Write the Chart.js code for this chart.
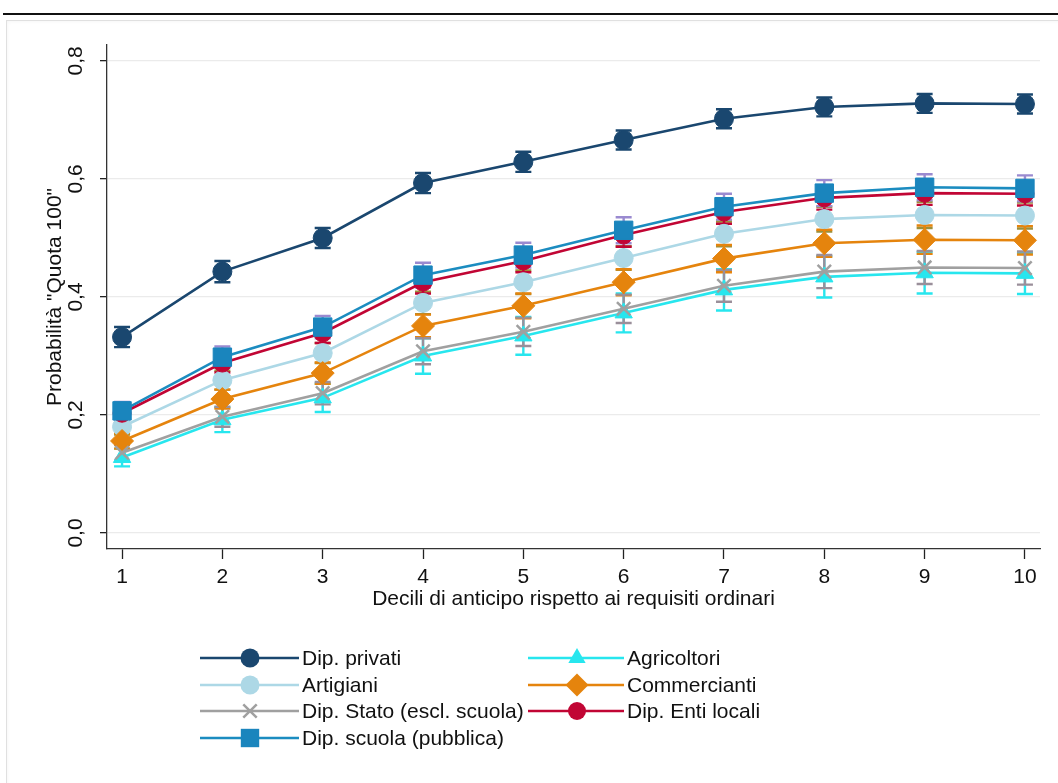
<!DOCTYPE html>
<html><head><meta charset="utf-8">
<script src="https://cdn.jsdelivr.net/npm/chart.js@4.4.1/dist/chart.umd.min.js"></script>
<style>
html,body{margin:0;padding:0;background:#fff;width:1058px;height:783px;overflow:hidden;}
#rule{position:absolute;left:3px;top:13px;width:1055px;height:2px;background:#111;}
#panel{position:absolute;left:6px;top:20px;width:1060px;height:780px;border:1px solid #e0e0e0;box-shadow:inset 0 0 4px rgba(0,0,0,0.05);}
#wrap{position:absolute;left:0;top:0;width:1058px;height:783px;}
</style></head><body>
<div id="rule"></div><div id="panel"></div>
<div id="wrap"><canvas id="c" width="1058" height="783"></canvas></div>
<script>
// ---- data ----
const deciles = [1, 2, 3, 4, 5, 6, 7, 8, 9, 10];
const yTicks = [0, 0.2, 0.4, 0.6, 0.8];
const seriesNames = ["Dip. privati", "Agricoltori", "Artigiani", "Commercianti", "Dip. Stato (escl. scuola)", "Dip. Enti locali", "Dip. scuola (pubblica)"];
const dipPrivati   = [0.332, 0.443, 0.500, 0.593, 0.629, 0.666, 0.702, 0.722, 0.728, 0.727];
const agricoltori  = [0.128, 0.192, 0.229, 0.300, 0.334, 0.373, 0.412, 0.434, 0.441, 0.440];
const artigiani    = [0.180, 0.259, 0.305, 0.390, 0.425, 0.466, 0.507, 0.532, 0.539, 0.538];
const commercianti = [0.156, 0.227, 0.271, 0.351, 0.385, 0.425, 0.465, 0.491, 0.497, 0.496];
const dipStato     = [0.136, 0.197, 0.237, 0.308, 0.341, 0.380, 0.419, 0.443, 0.450, 0.449];
const dipEnti      = [0.203, 0.288, 0.339, 0.425, 0.461, 0.505, 0.544, 0.568, 0.576, 0.575];
const dipScuola    = [0.207, 0.298, 0.349, 0.437, 0.471, 0.513, 0.553, 0.576, 0.586, 0.584];
// half-widths of the confidence intervals
const ciPrivati      = [0.017, 0.018, 0.017, 0.017, 0.017, 0.016, 0.016, 0.016, 0.016, 0.016];
const ciAgricoltori  = [0.015, 0.021, 0.024, 0.030, 0.032, 0.033, 0.035, 0.035, 0.035, 0.035];
const ciArtigiani    = [0.013, 0.016, 0.017, 0.019, 0.020, 0.020, 0.021, 0.021, 0.022, 0.022];
const ciCommercianti = [0.013, 0.016, 0.018, 0.019, 0.021, 0.022, 0.023, 0.023, 0.024, 0.024];
const ciStato        = [0.013, 0.017, 0.019, 0.022, 0.024, 0.024, 0.027, 0.028, 0.028, 0.028];
const ciEnti         = [0.014, 0.016, 0.017, 0.019, 0.019, 0.020, 0.020, 0.020, 0.020, 0.020];
const ciScuola       = [0.015, 0.018, 0.019, 0.021, 0.021, 0.022, 0.022, 0.022, 0.022, 0.022];

const FONT = "'Liberation Sans', Arial, Helvetica, sans-serif";
const FS = 21;
Chart.defaults.font.family = FONT;
Chart.defaults.font.size = FS;
Chart.defaults.color = '#111';

function pts(arr){ return arr.map((v,i)=>({x:deciles[i], y:v})); }

const styles = [
  {label:seriesNames[0], data:dipPrivati,   ci:ciPrivati,      color:'#1a476f', fill:'#1a476f', ciColor:'#1a476f', pointStyle:'circle',   r:9.5, order:6},
  {label:seriesNames[1], data:agricoltori,  ci:ciAgricoltori,  color:'#27e6ee', fill:'#27e6ee', ciColor:'#27e6ee', pointStyle:'triangle', r:10,  order:5},
  {label:seriesNames[2], data:artigiani,    ci:ciArtigiani,    color:'#add8e6', fill:'#add8e6', ciColor:'#9c8f3a', pointStyle:'circle',   r:9.5, order:4},
  {label:seriesNames[3], data:commercianti, ci:ciCommercianti, color:'#e5840d', fill:'#e5840d', ciColor:'#e5840d', pointStyle:'rectRot',  r:11.5,order:3},
  {label:seriesNames[4], data:dipStato,     ci:ciStato,        color:'#a0a0a0', fill:'#a0a0a0', ciColor:'#9a8f9a', pointStyle:'crossRot', r:9.5, order:2},
  {label:seriesNames[5], data:dipEnti,      ci:ciEnti,         color:'#c10534', fill:'#c10534', ciColor:'#c10534', pointStyle:'circle',   r:9,   order:1},
  {label:seriesNames[6], data:dipScuola,    ci:ciScuola,       color:'#1b8cc0', fill:'#1a85bd', ciColor:'#9a8ad0', pointStyle:'rect',     r:13,  order:0}
];

const datasets = styles.map(s=>({
  label:s.label, data:pts(s.data), ci:s.ci, ciColor:s.ciColor,
  borderColor:s.color, backgroundColor:s.fill, borderWidth:2.6,
  pointStyle:s.pointStyle, pointRadius:s.r, pointHoverRadius:s.r,
  pointBackgroundColor:s.fill, pointBorderColor:s.pointStyle==='crossRot'?s.color:s.fill,
  pointBorderWidth:s.pointStyle==='crossRot'?2.5:1,
  tension:0, order:s.order, clip:false
}));

const errorBars = {
  id:'errorBars',
  beforeDatasetsDraw(chart){
    const {ctx, scales:{x, y}} = chart;
    ctx.save();
    chart.data.datasets.forEach(ds=>{
      ctx.strokeStyle = ds.ciColor; ctx.lineWidth = 2.4; ctx.lineCap='butt';
      ds.data.forEach((p,i)=>{
        const px = x.getPixelForValue(p.x);
        const lo = y.getPixelForValue(p.y - ds.ci[i]);
        const hi = y.getPixelForValue(p.y + ds.ci[i]);
        ctx.beginPath();
        ctx.moveTo(px, lo); ctx.lineTo(px, hi);
        ctx.moveTo(px-8, lo); ctx.lineTo(px+8, lo);
        ctx.moveTo(px-8, hi); ctx.lineTo(px+8, hi);
        ctx.stroke();
      });
    });
    ctx.restore();
  }
};

function marker(ctx, style, r, x, y, fill, stroke){
  ctx.save();
  ctx.fillStyle = fill; ctx.strokeStyle = stroke;
  ctx.beginPath();
  if (style==='circle'){ ctx.arc(x,y,r,0,Math.PI*2); ctx.fill(); }
  else if (style==='triangle'){ ctx.moveTo(x, y-r); ctx.lineTo(x+r*0.866, y+r*0.5); ctx.lineTo(x-r*0.866, y+r*0.5); ctx.closePath(); ctx.fill(); }
  else if (style==='rectRot'){ ctx.moveTo(x, y-r); ctx.lineTo(x+r, y); ctx.lineTo(x, y+r); ctx.lineTo(x-r, y); ctx.closePath(); ctx.fill(); }
  else if (style==='rect'){ const s=r*Math.SQRT1_2; ctx.rect(x-s,y-s,2*s,2*s); ctx.fill(); }
  else if (style==='crossRot'){ const s=r*Math.SQRT1_2; ctx.lineWidth=2.5; ctx.moveTo(x-s,y-s); ctx.lineTo(x+s,y+s); ctx.moveTo(x-s,y+s); ctx.lineTo(x+s,y-s); ctx.stroke(); }
  ctx.restore();
}

const yLabels = {
  id:'yLabels',
  afterDraw(chart){
    const {ctx, scales:{y}} = chart;
    ctx.save();
    ctx.fillStyle = '#111';
    ctx.font = FS + 'px ' + FONT;
    ctx.textAlign = 'center'; ctx.textBaseline = 'middle';
    yTicks.forEach(v=>{
      const py = y.getPixelForValue(v);
      ctx.save(); ctx.translate(75, py); ctx.rotate(-Math.PI/2);
      ctx.fillText(v.toFixed(1).replace('.', ','), 0, 1);
      ctx.restore();
    });
    ctx.restore();
  }
};

const legendPos = [
  {lx:200, mx:250, tx:302, y:658},
  {lx:528, mx:577, tx:627, y:658},
  {lx:200, mx:250, tx:302, y:685},
  {lx:528, mx:577, tx:627, y:685},
  {lx:200, mx:250, tx:302, y:711},
  {lx:528, mx:577, tx:627, y:711},
  {lx:200, mx:250, tx:302, y:738}
];
const customLegend = {
  id:'customLegend',
  afterDraw(chart){
    const {ctx} = chart;
    ctx.save();
    styles.forEach((s,i)=>{
      const p = legendPos[i];
      ctx.strokeStyle = s.color; ctx.lineWidth = 2.6;
      ctx.beginPath(); ctx.moveTo(p.lx, p.y); ctx.lineTo(p.tx-3, p.y); ctx.stroke();
      marker(ctx, s.pointStyle, s.r, p.mx, p.y, s.fill, s.color);
      ctx.fillStyle = '#111'; ctx.font = FS + 'px ' + FONT;
      ctx.textAlign = 'left'; ctx.textBaseline = 'middle';
      ctx.fillText(s.label, p.tx, p.y+1);
    });
    ctx.restore();
  }
};

new Chart(document.getElementById('c'), {
  type:'line',
  data:{datasets},
  options:{
    responsive:false, animation:false, devicePixelRatio:1,
    layout:{padding:{left:41, top:45, right:18, bottom:169}},
    plugins:{legend:{display:false}, tooltip:{enabled:false}},
    scales:{
      x:{type:'linear', min:0.85, max:10.15,
        afterBuildTicks:s=>{ s.ticks = deciles.map(v=>({value:v})); },
        afterFit:s=>{ s.height = 65; },
        ticks:{padding:6, color:'#111', font:{size:FS}, callback:v=>String(v), maxRotation:0, autoSkip:false},
        grid:{drawOnChartArea:false, drawTicks:true, tickLength:10, tickColor:'#222', tickWidth:1.3},
        border:{color:'#333', width:1.3},
        title:{display:true, text:'Decili di anticipo rispetto ai requisiti ordinari', color:'#111', font:{size:FS}, padding:{top:0, bottom:2}}
      },
      y:{type:'linear', min:-0.0271, max:0.827,
        afterBuildTicks:s=>{ s.ticks = yTicks.map(v=>({value:v})); },
        afterFit:s=>{ s.width = 66; },
        ticks:{display:false},
        grid:{color:'#ebebeb', lineWidth:1.3, drawTicks:true, tickLength:7, tickColor:'#222', tickWidth:1.3},
        border:{color:'#333', width:1.3},
        title:{display:true, text:'Probabilità "Quota 100"', color:'#111', font:{size:FS}, padding:{top:2, bottom:0}}
      }
    }
  },
  plugins:[errorBars, yLabels, customLegend]
});
</script>
</body></html>
